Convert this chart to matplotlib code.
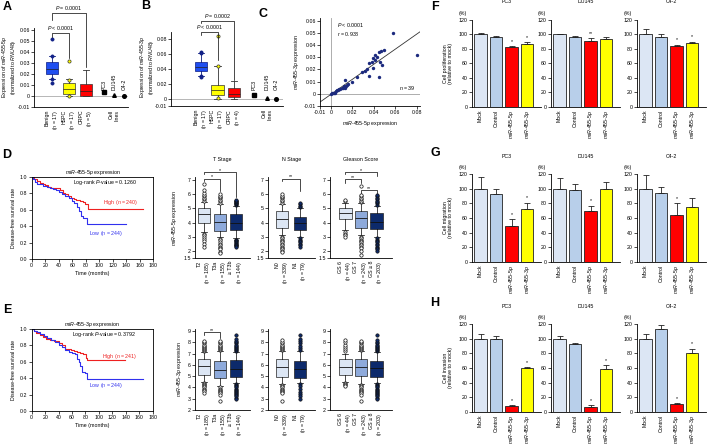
import matplotlib
matplotlib.use('Agg')
import matplotlib.pyplot as plt
import numpy as np

plt.rcParams['font.family'] = ['Liberation Sans', 'DejaVu Sans']
plt.rcParams['mathtext.fontset'] = 'custom'
plt.rcParams['mathtext.rm'] = 'Liberation Sans'
plt.rcParams['mathtext.it'] = 'Liberation Sans:italic'
plt.rcParams['font.size'] = 3.8
plt.rcParams['axes.linewidth'] = 0.6

W, H = 709, 445
FS = 3.8

# ---------- data ----------
# A / B : expression in tissues (whislo, q1, med, q3, whishi)
groups = ['Benign', 'HSPC', 'CRPC']
n_a = [17, 17, 5]
n_b = [17, 17, 4]
a_stats = [[0.0155, 0.0197, 0.0245, 0.031, 0.036],
           [0.0, 0.0015, 0.006, 0.0115, 0.0155],
           [0.0, 0.0, 0.005, 0.011, 0.0236]]
a_fliers = [[0.0515, 0.036, 0.0155, 0.0115], [0.0315, 0.015, 0.0], []]
b_stats = [[0.0303, 0.0373, 0.0427, 0.0485, 0.0605],
           [0.0, 0.005, 0.0116, 0.018, 0.044],
           [0.0, 0.0019, 0.0059, 0.0139, 0.0236]]
b_fliers = [[0.0625, 0.0605, 0.0303, 0.0295], [0.0836, 0.044, 0.0005], []]
cell_lines = ['PC3', 'DU145', 'C4-2']
a_cells = [0.0035, 0.0005, 0.0]
b_cells = [0.005, 0.0005, 0.0]

# C : correlation 5p vs 3p
x5p = [0.0005, 0.001, 0.002, 0.003, 0.004, 0.005, 0.006, 0.007, 0.008, 0.009, 0.010, 0.011,
       0.012, 0.013, 0.014, 0.015, 0.0137, 0.016, 0.020, 0.0248, 0.029, 0.0316, 0.034, 0.036,
       0.038, 0.039, 0.041, 0.0415, 0.0447, 0.0465, 0.036, 0.0447, 0.039, 0.0456, 0.0496,
       0.043, 0.048, 0.058, 0.080]
y3p = [0.0, 0.0003, 0.0005, 0.001, 0.001, 0.002, 0.003, 0.003, 0.004, 0.004, 0.005, 0.005,
       0.006, 0.005, 0.006, 0.007, 0.0113, 0.008, 0.010, 0.0135, 0.018, 0.019, 0.020, 0.025,
       0.0263, 0.029, 0.0277, 0.0318, 0.0345, 0.0353, 0.0146, 0.014, 0.021, 0.026, 0.036,
       0.030, 0.024, 0.050, 0.032]

# D / E : Kaplan-Meier
d_hi_t = [0, 4, 8, 12, 16, 20, 24, 28, 33, 38, 42, 46, 50, 54, 58, 62, 66, 71, 76, 79, 84, 165]
d_hi_s = [1.0, 0.97, 0.95, 0.93, 0.91, 0.90, 0.88, 0.87, 0.86, 0.86, 0.84, 0.81, 0.79, 0.77,
          0.75, 0.73, 0.72, 0.71, 0.70, 0.665, 0.61, 0.61]
d_lo_t = [0, 2, 5, 8, 12, 17, 22, 27, 32, 36, 40, 45, 50, 55, 59, 63, 67, 70, 73, 76, 82, 140]
d_lo_s = [1.0, 0.97, 0.94, 0.92, 0.91, 0.89, 0.88, 0.86, 0.85, 0.84, 0.82, 0.79, 0.77, 0.74,
          0.71, 0.68, 0.64, 0.58, 0.52, 0.50, 0.43, 0.43]
e_hi_t = [0, 3, 7, 12, 17, 22, 27, 33, 40, 45, 50, 58, 63, 67, 72, 77, 81, 83, 139]
e_hi_s = [1.0, 0.97, 0.95, 0.93, 0.90, 0.88, 0.87, 0.85, 0.83, 0.80, 0.76, 0.75, 0.73, 0.72,
          0.71, 0.70, 0.65, 0.62, 0.62]
e_lo_t = [0, 3, 8, 12, 18, 23, 28, 34, 40, 45, 50, 55, 60, 65, 68, 70, 72, 75, 80, 83, 165]
e_lo_s = [1.0, 0.98, 0.96, 0.94, 0.91, 0.89, 0.87, 0.84, 0.81, 0.78, 0.74, 0.72, 0.71, 0.69,
          0.64, 0.60, 0.55, 0.47, 0.46, 0.39, 0.39]

# D / E : box plots by clinical stage (whislo, q1, med, q3, whishi)
t_labels = ['T2', 'T3a', '\u2265 T3b']
t_n = [185, 155, 144]
n_labels = ['N0', 'N1']
n_n = [339, 79]
g_labels = ['GS 6', 'GS 7', 'GS \u2265 8']
g_n = [44, 243, 203]

d_t_stats = [[3.3, 3.95, 4.6, 5.0, 5.45], [2.95, 3.4, 4.05, 4.6, 5.3], [2.9, 3.5, 4.0, 4.6, 5.2]]
d_t_fl = [[5.55, 5.65, 5.75, 5.85, 5.95, 6.1, 6.3, 6.75, 3.2, 3.1, 3.0, 2.85, 2.7, 2.5, 2.25],
          [5.4, 5.5, 5.6, 5.7, 5.8, 5.9, 6.0, 2.85, 2.75, 2.6, 2.5, 2.4, 2.3, 2.2, 2.1, 1.95, 1.85],
          [5.25, 5.3, 5.35, 5.4, 5.45, 5.5, 5.55, 5.6, 2.8, 2.75, 2.7, 2.6, 2.55, 2.5, 2.45, 2.4, 2.35, 2.3]]
d_n_stats = [[3.1, 3.6, 4.25, 4.8, 5.3], [3.0, 3.5, 4.0, 4.4, 5.0]]
d_n_fl = [[5.4, 5.5, 5.6, 5.7, 5.8, 5.9, 6.0, 3.0, 2.9, 2.8, 2.7, 2.6, 2.5, 2.4, 2.3, 2.2, 2.1, 2.0, 1.9],
          [5.1, 5.2, 5.3, 5.4, 2.9, 2.8, 2.7, 2.6, 2.5, 2.4, 2.3]]
d_g_stats = [[3.45, 4.25, 4.7, 5.0, 5.4], [3.1, 3.65, 4.3, 4.85, 5.35], [3.0, 3.55, 4.05, 4.65, 5.15]]
d_g_fl = [[5.5, 5.6, 3.3, 3.2, 3.1, 3.0],
          [5.45, 5.55, 5.65, 5.75, 5.85, 5.95, 6.6, 3.0, 2.9, 2.8, 2.7, 2.6, 2.5, 2.4, 2.3, 2.2, 2.0, 1.7],
          [5.25, 5.35, 5.45, 5.55, 5.65, 5.75, 5.85, 5.95, 2.9, 2.8, 2.7, 2.6, 2.5, 2.4, 2.3, 2.2, 2.1, 2.0]]

e_t_stats = [[4.5, 5.1, 5.9, 6.5, 7.1], [4.1, 4.8, 5.55, 6.3, 7.2], [4.35, 4.95, 5.65, 6.4, 7.1]]
e_t_fl = [[7.2, 7.3, 7.4, 7.5, 7.6, 7.7, 7.8, 7.9, 8.0, 8.1, 4.4, 4.3, 4.2, 4.1, 4.0, 3.9, 3.8, 3.7, 3.5],
          [7.3, 7.4, 7.5, 7.6, 7.7, 7.8, 7.9, 8.0, 8.1, 4.0, 3.9, 3.8, 3.7, 3.6, 3.5, 3.3, 2.8],
          [7.2, 7.3, 7.4, 7.5, 7.6, 7.7, 7.8, 7.9, 8.0, 8.1, 8.3, 8.6, 4.3, 4.2, 4.1, 4.0, 3.9, 3.8,
           3.7, 3.6, 3.5, 3.4, 3.3, 3.2, 3.1, 3.0]]
e_n_stats = [[4.3, 4.95, 5.8, 6.5, 7.2], [4.4, 4.85, 5.6, 6.3, 7.2]]
e_n_fl = [[7.3, 7.4, 7.5, 7.6, 7.7, 7.8, 7.9, 8.0, 8.2, 4.2, 4.1, 4.0, 3.9, 3.8, 3.7, 3.6, 3.5, 2.8],
          [7.3, 7.5, 7.7, 7.9, 8.1, 8.3, 8.6, 4.3, 4.1, 3.9, 3.6, 3.4, 3.2, 3.0]]
e_g_stats = [[4.5, 5.1, 5.85, 6.55, 7.0], [4.3, 5.0, 5.8, 6.5, 7.2], [4.4, 4.9, 5.75, 6.35, 7.1]]
e_g_fl = [[7.2, 7.4, 7.6, 7.8, 8.0, 8.2, 4.4, 4.3, 4.2, 4.1],
          [7.3, 7.4, 7.5, 7.6, 7.7, 7.8, 7.9, 8.0, 8.1, 4.2, 4.1, 4.0, 3.9, 3.8, 3.7, 3.6, 3.5, 3.3, 2.8],
          [7.2, 7.3, 7.4, 7.5, 7.6, 7.7, 7.8, 7.9, 8.0, 8.2, 8.6, 4.3, 4.2, 4.1, 4.0, 3.9, 3.8, 3.7,
           3.6, 3.5, 3.4, 3.3, 3.2, 3.1, 3.0]]

# F / G / H : functional assays
bar_labels = ['Mock', 'Control', 'miR-455-5p', 'miR-455-3p']
assay_cells = ['PC3', 'DU145', 'C4-2']
prolif = [[100, 97, 82, 87], [100, 96, 91, 94], [100, 96.5, 84.5, 87.5]]
prolif_err = [[2, 1.5, 2, 2], [1, 2, 4.5, 3], [8, 4, 1.5, 2.5]]
prolif_sig = [['', '', '*', '*'], ['', '', '**', ''], ['', '', '*', '*']]
migr = [[100, 93, 49, 72], [100, 98, 70, 100.5], [100, 94.5, 64, 75.5]]
migr_err = [[16, 7, 9.5, 9], [15, 9, 7, 8.5], [19, 8, 16, 12.5]]
migr_sig = [['', '', '*', '*'], ['', '', '*', ''], ['', '', '*', '']]
inv = [[100, 99.5, 7.5, 59.5], [100, 93, 6.5, 59], [100, 113, 10, 80]]
inv_err = [[7, 5, 1.5, 2], [4, 2, 3, 5.5], [6, 6, 2, 6.5]]
inv_sig = [['', '', '*', '*'], ['', '', '*', '*'], ['', '', '*', '*']]

# ---------- helpers ----------
fig = plt.figure(figsize=(W / 100, H / 100), dpi=100)


def pax(x0, y0, x1, y1):
    return fig.add_axes([x0 / W, 1 - y1 / H, (x1 - x0) / W, (y1 - y0) / H])


def ftext(x, y, s, **kw):
    return fig.text(x / W, 1 - y / H, s, **kw)


def style(ax, box=False):
    ax.spines['top'].set_visible(box)
    ax.spines['right'].set_visible(box)
    for s in ax.spines.values():
        s.set_linewidth(0.6)
    ax.tick_params(length=2, width=0.5, pad=1, labelsize=FS)


def mir(name):
    parts = name.split('-')
    return '-'.join(r'$\it{%s}$' % p for p in parts)


def bracket(ax, x1, x2, y, yl1, yl2, label, dy):
    ax.plot([x1, x1, x2, x2], [yl1, y, y, yl2], color='black', lw=0.5, clip_on=False)
    ax.text((x1 + x2) / 2, y + dy, label, ha='center', va='bottom', fontsize=FS, clip_on=False)


GROUP_COL = ['#1f4ef0', '#ffff00', '#ff0000']
GROUP_EDGE = ['#0a1a80', '#333333', '#333333']
FLIER_COL = ['#14248c', '#ffff00', '#ff0000']


def expr_panel(ax, stats, fliers, cells_v, ns, cell_pos, ylim, yticks, yticklabels):
    bst = [dict(whislo=s[0], q1=s[1], med=s[2], q3=s[3], whishi=s[4], fliers=f)
           for s, f in zip(stats, fliers)]
    bp = ax.bxp(bst, positions=[1, 2, 3], widths=0.75, patch_artist=True,
                boxprops=dict(lw=0.5), whiskerprops=dict(lw=0.6), capprops=dict(lw=0.6),
                medianprops=dict(color='#222222', lw=0.5),
                flierprops=dict(marker='o', markersize=2.3, markeredgewidth=0.5))
    for i in range(3):
        bp['boxes'][i].set_facecolor(GROUP_COL[i])
        bp['boxes'][i].set_edgecolor(GROUP_EDGE[i])
        bp['fliers'][i].set_markerfacecolor(FLIER_COL[i])
        bp['fliers'][i].set_markeredgecolor(GROUP_EDGE[i])
        for j in (2 * i, 2 * i + 1):
            bp['whiskers'][j].set_color(GROUP_EDGE[i])
            bp['caps'][j].set_color(GROUP_EDGE[i])
    for xp, v, m in zip(cell_pos, cells_v, ['s', '^', 'o']):
        ax.plot(xp, v, marker=m, color='black', markersize=2.6, clip_on=False)
    for xp, name in zip(cell_pos, cell_lines):
        ax.text(xp, ylim[0] + (ylim[1] - ylim[0]) * 0.22, name, rotation=90,
                ha='center', va='bottom', fontsize=FS)
    ax.axhline(0, color='#9a9a9a', lw=0.5, zorder=0)
    ax.set_ylim(*ylim)
    ax.set_yticks(yticks)
    ax.set_yticklabels(yticklabels)
    labs = ['%s\n($\\it{n}$ = %d)' % (g, n) for g, n in zip(groups, ns)] + ['Cell\nlines']
    ax.set_xticks([1, 2, 3, cell_pos[1]])
    ax.set_xticklabels(labs, rotation=90, multialignment='right', va='top')
    ax.tick_params(axis='x', length=0, pad=2)


def km_panel(ax, t_hi, s_hi, t_lo, s_lo, pval, n_hi, n_lo, hi_y, lo_y):
    style(ax, box=True)
    ax.step(t_hi, s_hi, where='post', color='#ee2020', lw=0.8)
    ax.step(t_lo, s_lo, where='post', color='#3030ee', lw=0.8)
    ax.set_xlim(0, 180)
    ax.set_ylim(0, 1)
    ax.set_xticks(range(0, 181, 20))
    ax.set_yticks([0, 0.2, 0.4, 0.6, 0.8, 1.0])
    ax.set_yticklabels(['0.0', '0.2', '0.4', '0.6', '0.8', '1.0'])
    ax.set_xlabel('Time (months)', fontsize=FS, labelpad=2)
    ax.set_ylabel('Disease-free survival rate', fontsize=FS, labelpad=3)
    ax.text(108, 0.93, 'Log-rank $\\it{P}$-value = %s' % pval, ha='center', va='center', fontsize=FS)
    ax.text(131, hi_y, 'High ($\\it{n}$ = %d)' % n_hi, color='#ee2020', ha='center', va='center', fontsize=FS)
    ax.text(110, lo_y, 'Low ($\\it{n}$ = %d)' % n_lo, color='#3030ee', ha='center', va='center', fontsize=FS)


STAGE_COL = ['#dce6f4', '#8eaadb', '#0d2a6b']
STAGE_FL = ['white', 'white', '#0d2a6b']


def stage_box(ax, stats, fliers, labels, ns, cols, xlim, width, ylim, yticks, yticklabels):
    style(ax)
    k = len(stats)
    bst = [dict(whislo=s[0], q1=s[1], med=s[2], q3=s[3], whishi=s[4], fliers=f)
           for s, f in zip(stats, fliers)]
    bp = ax.bxp(bst, positions=list(range(1, k + 1)), widths=width, patch_artist=True,
                boxprops=dict(lw=0.5, edgecolor='#222222'), whiskerprops=dict(lw=0.5),
                capprops=dict(lw=0.5), medianprops=dict(color='#111111', lw=0.6),
                flierprops=dict(marker='o', markersize=2.4, markeredgewidth=0.5,
                                markeredgecolor='#111111'))
    for i in range(k):
        bp['boxes'][i].set_facecolor(STAGE_COL[cols[i]])
        bp['fliers'][i].set_markerfacecolor(STAGE_FL[cols[i]])
    ax.set_xlim(*xlim)
    ax.set_ylim(*ylim)
    ax.set_yticks(yticks)
    ax.set_yticklabels(yticklabels)
    ax.set_xticks(list(range(1, k + 1)))
    ax.set_xticklabels(['%s\n($\\it{n}$ = %d)' % (l, n) for l, n in zip(labels, ns)],
                       rotation=90, multialignment='right', va='top')
    ax.tick_params(axis='x', length=0, pad=2)


BAR_COL = ['#dce6f4', '#b8cfea', '#ff0000', '#ffff00']


def bar_panel(ax, vals, errs, sigs, title):
    style(ax)
    xs = np.arange(len(vals))
    ax.bar(xs, vals, width=0.8, color=BAR_COL, edgecolor='#222222', linewidth=0.6)
    ax.errorbar(xs, vals, yerr=[np.zeros(len(errs)), errs], fmt='none', ecolor='#222222',
                elinewidth=0.6, capsize=2.2, capthick=0.6)
    for x, v, e, s in zip(xs, vals, errs, sigs):
        if s:
            ax.text(x, v + e + 3, s, ha='center', va='bottom', fontsize=FS)
    ax.set_xlim(-0.55, 3.9)
    ax.set_ylim(0, 120)
    ax.set_yticks(range(0, 121, 20))
    ax.set_xticks(xs)
    ax.set_xticklabels(['Mock', 'Control', mir(bar_labels[2]), mir(bar_labels[3])],
                       rotation=90, va='top')
    ax.tick_params(axis='x', length=0, pad=2)
    ax.set_title(title, fontsize=FS, pad=12)


# ---------- A ----------
axA = pax(34, 27.8, 128, 107)
style(axA)
axA.set_xlim(-0.06, 5.47)
expr_panel(axA, a_stats, a_fliers, a_cells, n_a, [4.06, 4.65, 5.24], (-0.01, 0.062),
           [-0.01, 0, 0.01, 0.02, 0.03, 0.04, 0.05, 0.06],
           ['-0.01', '0', '0.01', '0.02', '0.03', '0.04', '0.05', '0.06'])
bracket(axA, 1, 2, 0.057, 0.0536, 0.0345, '$\\it{P}$ < 0.0001', 0.001)
bracket(axA, 1, 3, 0.0755, 0.069, 0.0264, '$\\it{P}$ = 0.0001', 0.001)
ftext(9, 67, 'Expression of ' + mir('miR-455-5p') + '\n(normalized to ' + r'$\it{RNU48}$' + ')',
      rotation=90, ha='center', va='center', fontsize=FS, linespacing=1.0)

# ---------- B ----------
axB = pax(171, 32, 283, 106.2)
style(axB)
axB.set_xlim(-0.82, 5.97)
expr_panel(axB, b_stats, b_fliers, b_cells, n_b, [4.21, 5.0, 5.55], (-0.01, 0.089),
           [-0.01, 0, 0.02, 0.04, 0.06, 0.08],
           ['-0.01', '0', '0.02', '0.04', '0.06', '0.08'])
bracket(axB, 1, 2, 0.0893, 0.085, 0.0516, '$\\it{P}$ < 0.0001', 0.0015)
bracket(axB, 1, 3, 0.104, 0.101, 0.025, '$\\it{P}$ = 0.0002', 0.0015)
ftext(147, 67, 'Expression of ' + mir('miR-455-3p') + '\n(normalized to ' + r'$\it{RNU48}$' + ')',
      rotation=90, ha='center', va='center', fontsize=FS, linespacing=1.0)

# ---------- C ----------
axC = pax(320, 18.2, 420, 106)
style(axC)
axC.axhline(0, color='#a0a0a0', lw=0.6, zorder=0)
axC.axvline(0, color='#a0a0a0', lw=0.6, zorder=0)
axC.scatter(x5p, y3p, s=6, color='#1c2a7e', zorder=3, linewidths=0)
coef = np.polyfit(x5p, y3p, 1)
xl = np.array([-0.01, 0.083])
axC.plot(xl, np.polyval(coef, xl), color='#333333', lw=0.6)
axC.set_xlim(-0.01, 0.083)
axC.set_ylim(-0.01, 0.062)
axC.set_xticks([-0.01, 0, 0.02, 0.04, 0.06, 0.08])
axC.set_xticklabels(['-0.01', '0', '0.02', '0.04', '0.06', '0.08'])
axC.set_yticks([-0.01, 0, 0.01, 0.02, 0.03, 0.04, 0.05, 0.06])
axC.set_yticklabels(['-0.01', '0', '0.01', '0.02', '0.03', '0.04', '0.05', '0.06'])
axC.text(0.006, 0.053, '$\\it{P}$ < 0.0001\n$\\it{r}$ = 0.938', ha='left', va='center',
         fontsize=FS, linespacing=1.2)
axC.text(0.079, 0.0015, '$\\it{n}$ = 39', ha='right', va='bottom', fontsize=FS)
axC.set_xlabel(mir('miR-455-5p') + ' expression', fontsize=FS, labelpad=3)
axC.set_ylabel(mir('miR-455-3p') + ' expression', fontsize=FS, labelpad=2)

# ---------- D / E : KM ----------
axDk = pax(31.7, 177, 153.3, 259)
km_panel(axDk, d_hi_t, d_hi_s, d_lo_t, d_lo_s, '0.1260', 240, 244, 0.69, 0.31)
axDk.set_title(mir('miR-455-5p') + ' expression', fontsize=FS, pad=2)
axEk = pax(31.7, 329, 152.7, 411)
km_panel(axEk, e_hi_t, e_hi_s, e_lo_t, e_lo_s, '0.3792', 241, 244, 0.66, 0.31)
axEk.set_title(mir('miR-455-3p') + ' expression', fontsize=FS, pad=2)

# ---------- D / E : stage box plots ----------
d_yt = [1.5, 2, 3, 4, 5, 6, 7]
d_ytl = ['1.5', '2', '3', '4', '5', '6', '7']
e_yt = [2, 3, 4, 5, 6, 7, 8, 9]
e_ytl = [str(v) for v in e_yt]

for row, (y0, y1, ylim, yt, ytl, st, name) in enumerate([
        (177.2, 258, (1.5, 7.2), d_yt, d_ytl, (d_t_stats, d_t_fl, d_n_stats, d_n_fl, d_g_stats, d_g_fl), 'miR-455-5p'),
        (328.7, 410, (2, 9.2), e_yt, e_ytl, (e_t_stats, e_t_fl, e_n_stats, e_n_fl, e_g_stats, e_g_fl), 'miR-455-3p')]):
    axT = pax(195, y0, 250, y1)
    stage_box(axT, st[0], st[1], t_labels, t_n, [0, 1, 2], (0.44, 3.875), 0.75, ylim, yt, ytl)
    axT.set_ylabel(mir(name) + ' expression', fontsize=FS, labelpad=3)
    axN = pax(268, y0, 315, y1)
    stage_box(axN, st[2], st[3], n_labels, n_n, [0, 2], (0.22, 2.83), 0.65, ylim, yt, ytl)
    axG = pax(330, y0, 392, y1)
    stage_box(axG, st[4], st[5], g_labels, g_n, [0, 1, 2], (0.03, 3.97), 0.8, ylim, yt, ytl)
    if row == 0:
        axT.set_title('T Stage', fontsize=FS, pad=12)
        axN.set_title('N Stage', fontsize=FS, pad=12)
        axG.set_title('Gleason Score', fontsize=FS, pad=12)
        bracket(axT, 1, 2, 7.1, 6.9, 6.2, '*', -0.05)
        bracket(axT, 1, 3, 7.55, 7.45, 5.8, '*', -0.05)
        bracket(axN, 1, 2, 7.1, 6.9, 6.2, '**', -0.05)
        bracket(axG, 1, 2, 7.05, 6.8, 6.8, '**', -0.05)
        bracket(axG, 2, 3, 6.3, 6.1, 6.1, '**', -0.05)
        bracket(axG, 1, 3, 7.55, 7.45, 7.3, '*', -0.05)
    else:
        bracket(axT, 1, 2, 8.9, 8.6, 8.4, '**', -0.05)

# ---------- F / G / H ----------
sub_x = [(472, 541), (551, 620), (637, 706)]
for (y0, y1, data, errs, sigs, ylab) in [
        (20, 106.7, prolif, prolif_err, prolif_sig, 'Cell proliferation'),
        (174.3, 261.7, migr, migr_err, migr_sig, 'Cell migration'),
        (324.3, 411.7, inv, inv_err, inv_sig, 'Cell invasion')]:
    for k, (x0, x1) in enumerate(sub_x):
        ax = pax(x0, y0, x1, y1)
        bar_panel(ax, data[k], errs[k], sigs[k], assay_cells[k])
        ftext(x0 - 9, y0 - 7, '(%)', ha='center', va='center', fontsize=FS)
    ftext(448, (y0 + y1) / 2, ylab + '\n(relative to mock)', rotation=90, ha='center',
          va='center', fontsize=FS)

# ---------- panel letters ----------
for lab, x, y in [('A', 7, 7), ('B', 146, 6), ('C', 263, 14), ('D', 7, 155), ('E', 7, 310),
                  ('F', 435, 7), ('G', 435, 153), ('H', 435, 303)]:
    ftext(x, y, lab, fontsize=9, fontweight='bold', ha='center', va='center')

fig.savefig('out.png', dpi=100)
